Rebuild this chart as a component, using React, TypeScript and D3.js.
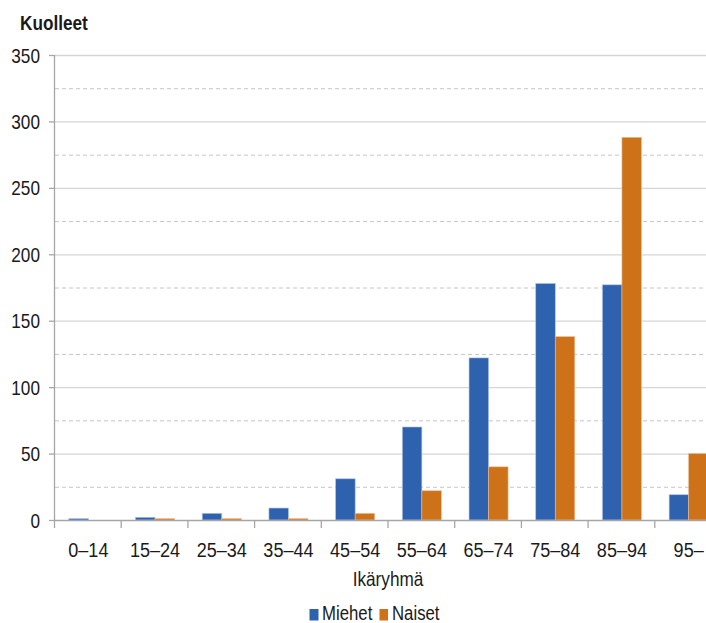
import React from "react";
import * as d3 from "d3";

const categories = ["0–14", "15–24", "25–34", "35–44", "45–54", "55–64", "65–74", "75–84", "85–94", "95–"];
const seriesNames = ["Miehet", "Naiset"];
const miehet = [1, 2, 5, 9, 31, 70, 122, 178, 177, 19];
const naiset = [0, 1, 1, 1, 5, 22, 40, 138, 288, 50];
const yTicks = [0, 50, 100, 150, 200, 250, 300, 350];
const colors = ["#2F62AE", "#CD7218"];

const W = 706, H = 623;
const left = 55, top = 55, bottom = 520;
const step = 66.7;
const SX = 0.86;

export default function App() {
  const x = d3.scaleBand<string>().domain(categories).range([left, left + step * categories.length]).padding(0);
  const xs = d3.scaleBand<string>().domain(seriesNames).range([0, x.bandwidth()]).paddingInner(0).paddingOuter(0.71);
  const y = d3.scaleLinear().domain([0, 350]).range([bottom, top]);
  const minor = d3.range(25, 350, 50);
  const series = [miehet, naiset];
  const font = "'Liberation Sans', Arial, sans-serif";
  const txt = (tx: number, ty: number, s: string, size: number, anchor: string, weight = "normal", key?: any) => (
    <text key={key} transform={`translate(${tx},${ty}) scale(${SX},1)`} textAnchor={anchor as any} fontSize={size} fontWeight={weight} fontFamily={font} fill="#1a1a1a">{s}</text>
  );
  return (
    <svg width={W} height={H} style={{ position: "absolute", left: 0, top: 0, background: "#fff" }}>
      <rect width={W} height={H} fill="#fff" />
      {minor.map((v) => (
        <line key={"m" + v} x1={left} x2={W} y1={y(v) + 0.5} y2={y(v) + 0.5} stroke="#c6c6c6" strokeDasharray="4,3" strokeWidth={1} />
      ))}
      {yTicks.filter((v) => v > 0).map((v) => (
        <line key={"g" + v} x1={left} x2={W} y1={y(v) + 0.5} y2={y(v) + 0.5} stroke="#d6d6d6" strokeWidth={1.3} />
      ))}
      {categories.map((c, i) =>
        series.map((s, j) => {
          const v = s[i];
          if (v <= 0) return null;
          return (
            <rect key={c + j} x={x(c)! + xs(seriesNames[j])!} y={y(v)} width={xs.bandwidth()} height={bottom - y(v)}
              fill={colors[j]} stroke={j === 0 ? "#a9c0e4" : "#edb98a"} strokeWidth={0.6} />
          );
        })
      )}
      <line x1={left - 0.5} x2={left - 0.5} y1={top} y2={bottom} stroke="#a6a6a6" strokeWidth={1.3} />
      <line x1={left} x2={W} y1={bottom + 0.5} y2={bottom + 0.5} stroke="#a6a6a6" strokeWidth={1.3} />
      {yTicks.map((v) => (
        <line key={"t" + v} x1={left - 6} x2={left} y1={y(v) + 0.5} y2={y(v) + 0.5} stroke="#a6a6a6" strokeWidth={1.3} />
      ))}
      {d3.range(categories.length + 1).map((i) => (
        <line key={"xt" + i} x1={left + i * step - 0.5} x2={left + i * step - 0.5} y1={bottom} y2={bottom + 8} stroke="#a6a6a6" strokeWidth={1.3} />
      ))}
      {yTicks.map((v) => txt(40, y(v) + 7.5, String(v), 20, "end", "normal", "yl" + v))}
      {categories.map((c) => txt(x(c)! + x.bandwidth() / 2, 557, c, 21, "middle", "normal", "xl" + c))}
      {txt(20, 30, "Kuolleet", 20, "start", "bold")}
      {txt(388, 586, "Ikäryhmä", 20, "middle")}
      <rect x={309.5} y={609} width={9} height={11.5} fill={colors[0]} />
      {txt(322, 619.5, "Miehet", 19.5, "start")}
      <rect x={379.5} y={609} width={8.5} height={11.5} fill={colors[1]} />
      {txt(392, 619.5, "Naiset", 19.5, "start")}
    </svg>
  );
}
